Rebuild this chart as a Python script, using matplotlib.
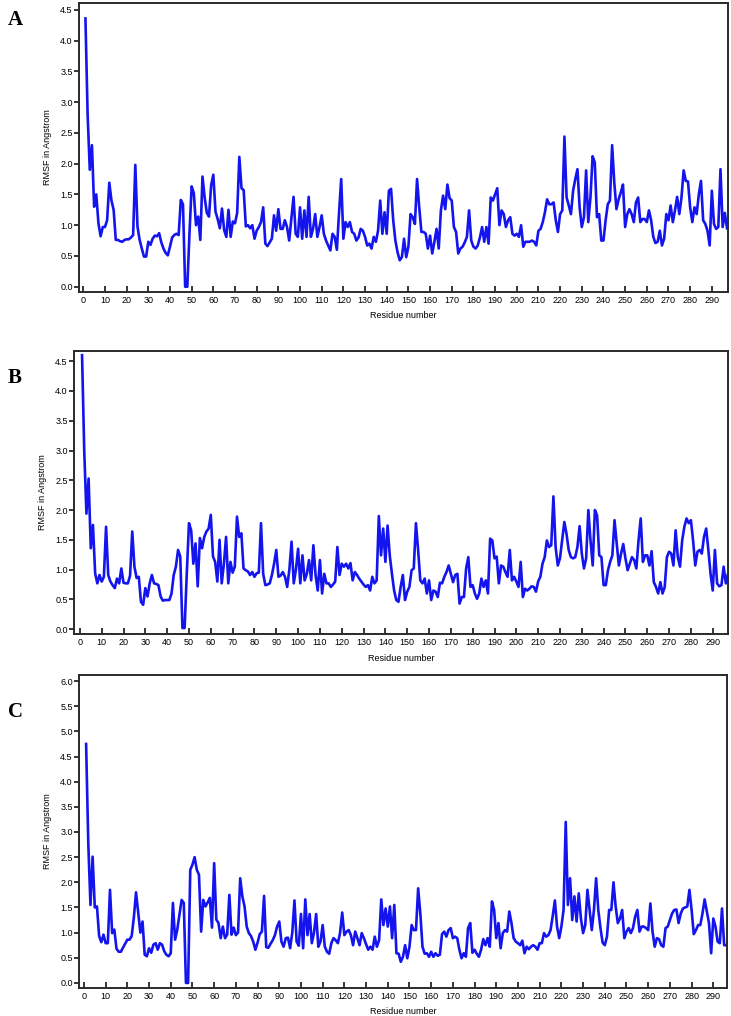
import matplotlib
matplotlib.use("Agg")
import matplotlib.pyplot as plt
import numpy as np

# RMSF per residue (Angstrom)
rmsf_a = [
    4.36, 2.8, 1.9, 2.3, 1.3, 1.5, 1.03, 0.82, 0.97, 0.97,
    1.08, 1.69, 1.4, 1.25, 0.76, 0.76, 0.74, 0.73, 0.76, 0.77,
    0.77, 0.8, 0.84, 1.98, 0.98, 0.76, 0.62, 0.49, 0.49, 0.73,
    0.68, 0.78, 0.83, 0.82, 0.87, 0.72, 0.62, 0.55, 0.51, 0.65,
    0.8, 0.84, 0.86, 0.84, 1.41, 1.34, 0.0, 0.0, 0.87, 1.63,
    1.52, 1.0, 1.14, 0.76, 1.79, 1.45, 1.2, 1.14, 1.65, 1.82,
    1.22, 1.1, 0.95, 1.27, 0.92, 0.81, 1.25, 0.81, 1.06, 1.03,
    1.2, 2.11, 1.6, 1.57, 0.98, 1.0, 0.95, 1.0, 0.78, 0.91,
    0.97, 1.05, 1.29, 0.70, 0.66, 0.72, 0.78, 1.16, 0.91, 1.26,
    0.94, 0.94, 1.08, 0.97, 0.75, 1.1, 1.46, 0.86, 0.81, 1.29,
    0.78, 1.24, 0.81, 1.46, 0.81, 0.94, 1.18, 0.81, 0.97, 1.16,
    0.86, 0.75, 0.67, 0.59, 0.86, 0.81, 0.6, 1.2, 1.75, 0.78,
    1.05, 0.97, 1.05, 0.89, 0.86, 0.75, 0.8, 0.94, 0.91, 0.81,
    0.67, 0.70, 0.62, 0.81, 0.73, 0.91, 1.40, 0.86, 1.21, 0.86,
    1.56, 1.59, 1.08, 0.75, 0.56, 0.43, 0.48, 0.78, 0.48, 0.65,
    1.18, 1.13, 1.02, 1.75, 1.29, 0.89, 0.89, 0.86, 0.62, 0.83,
    0.54, 0.73, 0.94, 0.62, 1.24, 1.48, 1.26, 1.66, 1.44, 1.40,
    0.97, 0.89, 0.54, 0.62, 0.65, 0.72, 0.81, 1.24, 0.75, 0.65,
    0.62, 0.67, 0.8, 0.97, 0.73, 0.97, 0.70, 1.45, 1.40, 1.50,
    1.6, 1.0, 1.24, 1.18, 0.97, 1.08, 1.13, 0.86, 0.83, 0.86,
    0.81, 1.0, 0.65, 0.73, 0.73, 0.73, 0.75, 0.73, 0.67, 0.91,
    0.94, 1.05, 1.21, 1.42, 1.34, 1.34, 1.37, 1.08, 0.89, 1.18,
    1.24, 2.44, 1.45, 1.32, 1.18, 1.56, 1.75, 1.91, 1.29, 0.97,
    1.13, 1.89, 1.05, 1.45, 2.12, 2.02, 1.13, 1.18, 0.75, 0.75,
    1.08, 1.34, 1.40, 2.3, 1.69, 1.26, 1.42, 1.53, 1.66, 0.97,
    1.18, 1.26, 1.18, 1.05, 1.37, 1.45, 1.05, 1.10, 1.10, 1.05,
    1.24, 1.08, 0.81, 0.71, 0.73, 0.91, 0.67, 0.78, 1.18, 1.08,
    1.32, 1.05, 1.24, 1.46, 1.18, 1.45, 1.89, 1.72, 1.71, 1.29,
    1.05, 1.29, 1.18, 1.5, 1.72, 1.08, 1.02, 0.91, 0.67, 1.56,
    1.02, 0.94, 0.97, 1.91, 0.97, 1.2, 0.95,
]

rmsf_b = [
    4.6, 3.0, 1.94, 2.53, 1.36, 1.75, 0.94, 0.77, 0.91, 0.8,
    0.88, 1.72, 0.91, 0.8, 0.74, 0.69, 0.85, 0.77, 1.02, 0.78,
    0.77, 0.77, 0.9, 1.64, 1.05, 0.86, 0.88, 0.46, 0.41, 0.69,
    0.55, 0.77, 0.91, 0.77, 0.76, 0.74, 0.55, 0.48, 0.49, 0.49,
    0.49, 0.6, 0.91, 1.05, 1.33, 1.22, 0.02, 0.02, 0.94, 1.78,
    1.66, 1.1, 1.44, 0.72, 1.53, 1.36, 1.55, 1.64, 1.69, 1.92,
    1.22, 1.13, 0.8, 1.5, 0.77, 1.1, 1.55, 0.77, 1.13, 0.95,
    1.05, 1.89, 1.55, 1.61, 1.02, 0.99, 0.97, 0.91, 0.96, 0.88,
    0.94, 0.95, 1.78, 0.93, 0.74, 0.75, 0.77, 0.91, 1.1, 1.33,
    0.88, 0.9, 0.96, 0.88, 0.71, 1.0, 1.47, 0.77, 1.0, 1.35,
    0.77, 1.24, 0.82, 0.93, 1.16, 0.82, 1.41, 0.91, 0.65, 1.16,
    0.6, 0.93, 0.77, 0.77, 0.71, 0.75, 0.8, 1.38, 0.91, 1.1,
    1.05, 1.1, 1.02, 1.11, 0.82, 0.96, 0.91, 0.85, 0.8, 0.75,
    0.71, 0.74, 0.65, 0.88, 0.77, 0.82, 1.9, 1.24, 1.69, 1.13,
    1.74, 1.24, 0.93, 0.65, 0.49, 0.46, 0.71, 0.91, 0.49, 0.63,
    0.71, 0.99, 1.02, 1.78, 1.33, 0.82, 0.77, 0.85, 0.6, 0.82,
    0.49, 0.65, 0.63, 0.54, 0.78, 0.77, 0.88, 0.96, 1.07, 0.93,
    0.79, 0.91, 0.93, 0.43, 0.54, 0.54, 1.02, 1.21, 0.71, 0.74,
    0.6, 0.51, 0.6, 0.85, 0.71, 0.82, 0.6, 1.52, 1.49, 1.19,
    1.22, 0.77, 1.07, 1.05, 0.96, 0.88, 1.33, 0.82, 0.88, 0.8,
    0.71, 1.13, 0.54, 0.68, 0.65, 0.68, 0.72, 0.71, 0.63, 0.8,
    0.88, 1.1, 1.21, 1.49, 1.38, 1.41, 2.23, 1.38, 1.07, 1.19,
    1.49, 1.8, 1.6, 1.33, 1.21, 1.19, 1.21, 1.38, 1.73, 1.27,
    1.02, 1.19, 2.0, 1.49, 1.07, 2.0, 1.91, 1.24, 1.21, 0.74,
    0.74, 0.99, 1.13, 1.24, 1.83, 1.44, 1.07, 1.27, 1.43, 1.19,
    0.99, 1.1, 1.21, 1.16, 1.02, 1.49, 1.86, 1.13, 1.24, 1.24,
    1.07, 1.31, 0.79, 0.71, 0.6, 0.79, 0.6, 0.71, 1.21, 1.3,
    1.27, 1.07, 1.66, 1.21, 1.05, 1.49, 1.72, 1.86, 1.78, 1.83,
    1.49, 1.07, 1.3, 1.33, 1.27, 1.55, 1.69, 1.33, 0.93, 0.65,
    1.33, 0.77, 0.72, 0.74, 1.05, 0.77, 0.93,
]

rmsf_c = [
    4.75, 2.78, 1.55, 2.51, 1.5, 1.52, 0.93, 0.81, 0.96, 0.79,
    0.79, 1.85, 0.99, 1.06, 0.68, 0.62, 0.62, 0.7, 0.78, 0.86,
    0.86, 0.93, 1.3, 1.8, 1.39, 1.0, 1.22, 0.56, 0.53, 0.69,
    0.6, 0.76, 0.79, 0.66, 0.79, 0.76, 0.63, 0.56, 0.53, 0.59,
    1.59, 0.86, 1.06, 1.35, 1.65, 1.59, 0.0, 0.0, 2.25, 2.35,
    2.5, 2.25, 2.15, 1.02, 1.65, 1.52, 1.6, 1.69, 1.1, 2.38,
    1.26, 1.19, 0.89, 1.12, 0.89, 0.96, 1.75, 0.96, 1.1, 0.95,
    1.0, 2.08, 1.72, 1.52, 1.12, 0.99, 0.93, 0.82, 0.66, 0.8,
    0.97, 1.02, 1.73, 0.71, 0.7, 0.78, 0.85, 0.95, 1.12, 1.22,
    0.82, 0.72, 0.89, 0.9, 0.69, 1.0, 1.64, 0.82, 0.74, 1.37,
    0.69, 1.66, 0.95, 1.37, 0.79, 1.0, 1.37, 0.72, 0.82, 1.15,
    0.72, 0.62, 0.58, 0.79, 0.89, 0.85, 0.79, 0.99, 1.4, 0.95,
    1.02, 1.05, 0.95, 0.75, 1.02, 0.89, 0.75, 0.99, 0.89, 0.77,
    0.66, 0.72, 0.66, 0.92, 0.72, 0.85, 1.66, 1.15, 1.48, 1.12,
    1.52, 0.89, 1.55, 0.59, 0.58, 0.42, 0.52, 0.75, 0.49, 0.72,
    1.15, 1.05, 1.05, 1.88, 1.38, 0.72, 0.58, 0.59, 0.52, 0.62,
    0.52, 0.59, 0.54, 0.56, 0.97, 1.02, 0.92, 1.05, 1.09, 0.89,
    0.92, 0.89, 0.66, 0.49, 0.59, 0.52, 1.09, 1.19, 0.6, 0.66,
    0.58, 0.52, 0.66, 0.87, 0.75, 0.89, 0.72, 1.62, 1.45, 0.89,
    1.19, 0.69, 0.99, 1.05, 1.02, 1.42, 1.19, 0.89, 0.82, 0.79,
    0.75, 0.84, 0.59, 0.72, 0.67, 0.72, 0.75, 0.72, 0.66, 0.79,
    0.79, 0.99, 0.92, 0.95, 1.05, 1.33, 1.64, 1.12, 0.89, 1.12,
    1.45, 3.2, 1.55, 2.08, 1.25, 1.72, 1.22, 1.78, 1.28, 0.99,
    1.15, 1.85, 1.45, 1.05, 1.45, 2.08, 1.45, 1.09, 0.8, 0.75,
    0.92, 1.45, 1.45, 2.0, 1.52, 1.19, 1.28, 1.45, 0.89, 1.02,
    1.09, 0.99, 1.09, 1.32, 1.45, 1.02, 1.12, 1.12, 1.09, 1.05,
    1.58, 1.02, 0.72, 0.89, 0.87, 0.75, 0.72, 1.09, 1.12, 1.25,
    1.38, 1.45, 1.46, 1.19, 1.38, 1.48, 1.5, 1.52, 1.85, 1.45,
    0.97, 1.05, 1.15, 1.15, 1.38, 1.66, 1.42, 1.19, 0.59, 1.28,
    1.12, 0.82, 0.79, 1.48, 0.75, 0.75,
]

panel_letters = ["A", "B", "C"]
x_ticks = np.arange(0, 300, 10)
y_ticks_ab = np.arange(0, 4.51, 0.5)
y_ticks_c = np.arange(0, 6.01, 0.5)

plt.rcParams["font.family"] = ["Liberation Sans", "DejaVu Sans"]

fig = plt.figure(figsize=(7.31, 10.16), dpi=100)

# axes rectangles in figure fraction (left, bottom, width, height)
rects = [
    (0.108, 0.7126, 0.888, 0.2844),
    (0.1012, 0.376, 0.8947, 0.2785),
    (0.108, 0.0276, 0.8865, 0.308),
]
xlims = [(-2, 297.5), (-2.7, 297), (-2.3, 296.3)]
ylims = [(-0.086, 4.61), (-0.08, 4.67), (-0.1, 6.12)]
series = [rmsf_a, rmsf_b, rmsf_c]
yticks = [y_ticks_ab, y_ticks_ab, y_ticks_c]
letter_y = [0.980, 0.628, 0.299]
xlabel_y = [-0.066, -0.07, -0.06]

for i in range(3):
    ax = fig.add_axes(rects[i])
    vals = np.array(series[i])
    res = np.arange(1, len(vals) + 1)
    ax.plot(res, vals, color="#1414ee", lw=1.9, solid_joinstyle="round")
    ax.set_xlim(*xlims[i])
    ax.set_ylim(*ylims[i])
    ax.set_xticks(x_ticks)
    ax.set_yticks(yticks[i])
    ax.set_yticklabels([f"{v:.1f}" for v in yticks[i]])
    ax.tick_params(axis="x", direction="in", length=4, width=1.1, labelsize=6.5, pad=3)
    ax.tick_params(axis="y", direction="out", length=3.5, width=1.1, labelsize=6.5, pad=1)
    for s in ax.spines.values():
        s.set_linewidth(1.4)
        s.set_color("#2a2a2a")
    ax.set_ylabel("RMSF in Angstrom", fontsize=6.5)
    ax.yaxis.set_label_coords(-0.042, 0.5)
    ax.set_xlabel("Residue number", fontsize=6.5)
    ax.xaxis.set_label_coords(0.5, xlabel_y[i])
    fig.text(0.011, letter_y[i], panel_letters[i], fontsize=15, fontweight="bold",
             family="Liberation Serif", va="center", ha="left")

fig.savefig("out.png", dpi=100)
